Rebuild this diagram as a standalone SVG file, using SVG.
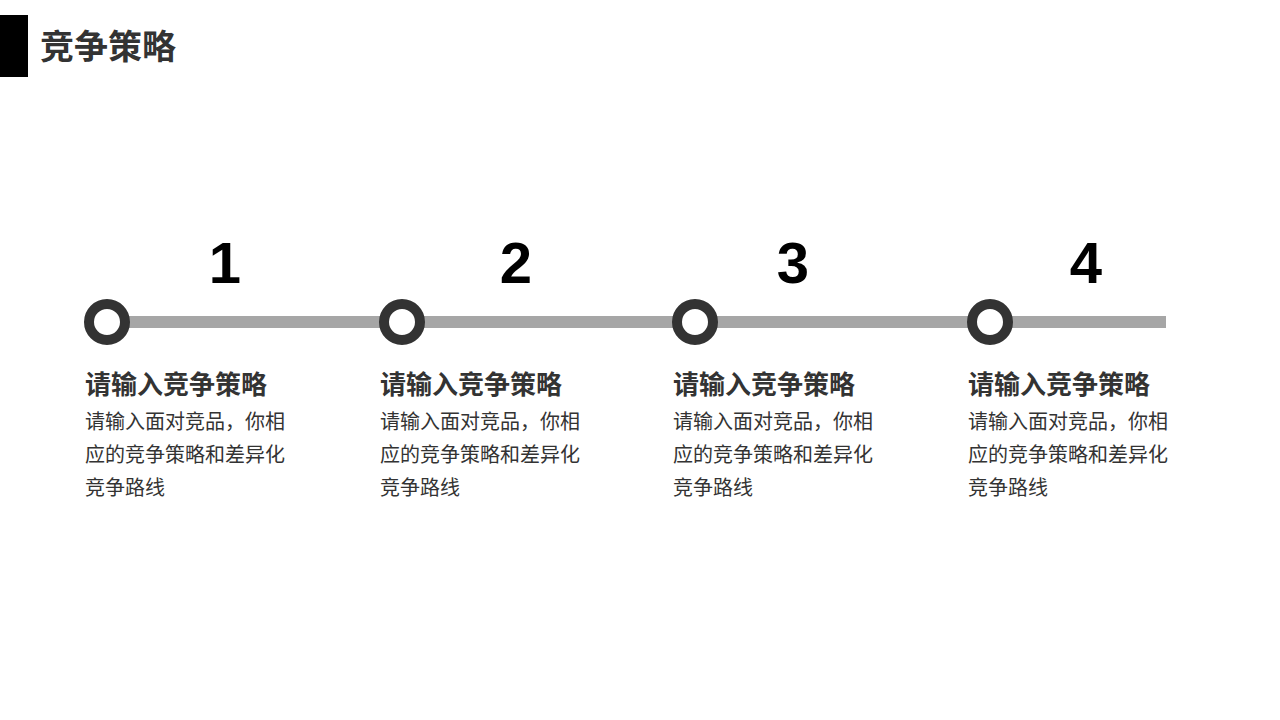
<svg xmlns="http://www.w3.org/2000/svg" width="1280" height="720" viewBox="0 0 1280 720">
<style>
.t{font-family:"Liberation Sans","Noto Sans CJK SC",sans-serif;fill:#333}
.h{font-size:26px;font-weight:bold}
.b{font-size:20px}
.n{font-family:"Liberation Sans",sans-serif;font-size:58px;font-weight:bold;fill:#000;text-anchor:middle}
.c{fill:#fff;stroke:#333;stroke-width:10}
</style>
<rect width="1280" height="720" fill="#fff"/>
<g id="title"><rect x="0" y="15" width="28" height="62" fill="#000"/>
<text class="t" x="40" y="59" font-size="34" font-weight="bold">竞争策略</text></g>
<g id="connectors"><line x1="107" y1="322" x2="1166" y2="322" stroke="#a6a6a6" stroke-width="12"/></g>
<g id="step1"><circle class="c" cx="107" cy="322" r="18"/><text class="n" x="225" y="283">1</text>
<text class="t h" x="85" y="394">请输入竞争策略</text>
<text class="t b" x="85" y="429">请输入面对竞品，你相</text><text class="t b" x="85" y="462">应的竞争策略和差异化</text><text class="t b" x="85" y="495">竞争路线</text></g>
<g id="step2"><circle class="c" cx="402" cy="322" r="18"/><text class="n" x="516" y="283">2</text>
<text class="t h" x="380" y="394">请输入竞争策略</text>
<text class="t b" x="380" y="429">请输入面对竞品，你相</text><text class="t b" x="380" y="462">应的竞争策略和差异化</text><text class="t b" x="380" y="495">竞争路线</text></g>
<g id="step3"><circle class="c" cx="695" cy="322" r="18"/><text class="n" x="793" y="283">3</text>
<text class="t h" x="673" y="394">请输入竞争策略</text>
<text class="t b" x="673" y="429">请输入面对竞品，你相</text><text class="t b" x="673" y="462">应的竞争策略和差异化</text><text class="t b" x="673" y="495">竞争路线</text></g>
<g id="step4"><circle class="c" cx="990" cy="322" r="18"/><text class="n" x="1086" y="283">4</text>
<text class="t h" x="968" y="394">请输入竞争策略</text>
<text class="t b" x="968" y="429">请输入面对竞品，你相</text><text class="t b" x="968" y="462">应的竞争策略和差异化</text><text class="t b" x="968" y="495">竞争路线</text></g>
</svg>
